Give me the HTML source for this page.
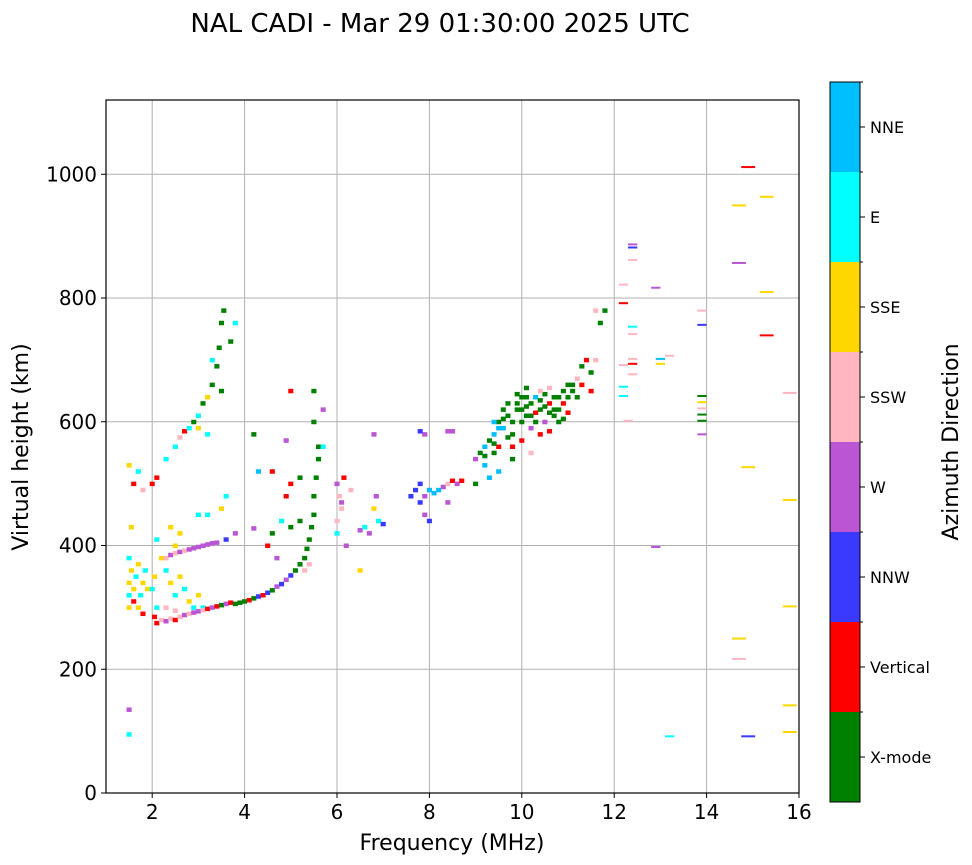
<!DOCTYPE html>
<html><head><meta charset="utf-8"><style>
html,body{margin:0;padding:0;background:#fff;}
svg{display:block;font-family:"DejaVu Sans","Liberation Sans",sans-serif;}
</style></head><body>
<svg id="chart" width="972" height="865" viewBox="0 0 972 865">
<text x="440" y="32" font-size="26" text-anchor="middle">NAL CADI - Mar 29 01:30:00 2025 UTC</text>
<g id="grid"></g>
<g id="marks"></g>
<rect x="106" y="100" width="693" height="693" fill="none" stroke="#000" stroke-width="1.2"/>
<g id="xticks"></g>
<g id="yticks"></g>
<text x="452" y="850" font-size="22" text-anchor="middle">Frequency (MHz)</text>
<text transform="translate(28,447) rotate(-90)" font-size="22" text-anchor="middle">Virtual height (km)</text>
<g id="cbar"></g>
<text transform="translate(958,442) rotate(-90)" font-size="22" text-anchor="middle">Azimuth Direction</text>
</svg>
<script>
const NS='http://www.w3.org/2000/svg';
const directions=['X-mode','Vertical','NNW','W','SSW','SSE','E','NNE'];
const dirColors=['#008000','#ff0000','#3a3aff','#ba55d3','#ffb6c1','#ffd700','#00ffff','#00bfff'];
const xTicks=[2,4,6,8,10,12,14,16];
const yTicks=[0,200,400,600,800,1000];
const echoFreq=[1.5,1.5,1.5,1.55,1.5,1.6,1.6,1.65,1.7,1.7,1.75,1.8,1.8,1.85,1.9,1.55,1.6,1.5,1.7,1.8,1.5,1.5,
2.0,2.05,2.1,2.1,2.2,2.3,2.4,2.5,2.5,2.6,2.7,2.8,2.9,3.0,3.1,
2.05,2.1,2.2,2.3,2.4,2.5,2.6,2.7,2.8,2.9,3.0,3.1,3.2,3.3,3.4,3.5,3.6,3.7,3.8,3.9,4.0,4.1,4.2,4.3,4.4,4.5,4.6,4.7,4.8,4.9,5.0,5.1,5.2,5.3,5.35,5.4,5.45,5.5,5.5,5.55,5.6,5.6,5.3,5.4,2.3,2.5,
2.3,2.4,2.5,2.6,2.7,2.8,2.9,3.0,3.1,3.2,3.3,3.4,3.6,3.8,4.2,4.8,4.6,4.5,4.7,5.0,5.2,4.9,5.0,5.2,4.3,4.2,4.9,5.0,5.5,5.5,5.7,5.7,4.6,
2.0,2.1,2.3,2.5,2.6,2.7,2.8,2.9,3.0,3.1,3.2,3.3,3.4,3.45,3.5,3.55,3.7,3.5,3.2,3.0,3.3,3.6,3.2,3.5,3.0,3.8,2.4,2.6,
6.0,6.05,6.1,6.0,6.15,6.1,6.0,6.5,6.6,6.7,6.8,6.85,6.8,6.9,6.5,7.0,6.3,6.2,
7.6,7.7,7.8,7.8,7.9,8.0,8.1,8.2,8.3,8.4,8.5,8.6,8.7,8.4,7.9,8.0,7.9,7.8,8.4,8.5,
9.0,9.1,9.2,9.2,9.3,9.4,9.4,9.5,9.5,9.6,9.6,9.7,9.7,9.8,9.8,9.9,9.9,10.0,10.0,10.0,10.1,10.1,10.2,10.2,10.3,10.3,10.4,10.4,10.5,10.5,10.6,10.6,10.7,10.7,10.8,10.8,10.9,10.9,11.0,11.0,11.1,11.2,11.2,11.3,11.3,11.4,11.5,11.5,11.6,11.7,11.8,11.6,9.3,9.0,9.5,9.8,10.2,10.6,10.1,10.4,
9.4,9.6,9.8,10.0,10.2,10.4,10.6,10.8,11.0,9.5,9.7,9.9,10.1,10.3,10.5,10.7,10.9,11.1,9.2,9.4,
12.2,12.2,12.4,12.4,12.4,12.4,12.4,12.4,12.4,12.4,12.2,12.2,12.2,12.3,13.0,13.0,13.2,12.9,12.9,13.2,13.9,13.9,13.9,13.9,13.9,13.9,13.9,13.9,14.7,14.7,14.7,14.7,14.9,14.9,14.9,15.3,15.3,15.3,15.8,15.8,15.8,15.8,15.8];
const echoHeight=[300,320,340,360,380,330,310,350,300,370,320,340,290,360,330,430,500,530,520,490,95,135,
330,350,300,410,380,360,340,320,400,350,330,310,300,320,300,
285,275,280,278,282,280,285,288,290,292,294,296,298,300,302,304,306,308,306,308,310,312,315,318,320,324,328,334,338,345,352,360,370,380,395,410,430,450,480,510,540,560,360,370,300,295,
380,385,388,390,392,394,396,398,400,402,404,405,410,420,428,440,420,400,380,430,440,480,500,510,520,580,570,650,650,600,560,620,520,
500,510,540,560,575,585,590,600,610,630,640,660,690,720,760,780,730,650,580,590,700,480,450,460,450,760,430,420,
500,480,460,440,510,470,420,425,430,420,460,480,580,440,360,435,490,400,
480,490,500,470,480,490,485,490,495,500,505,500,505,470,450,440,580,585,585,585,
540,550,560,530,570,580,550,600,560,620,590,630,575,600,560,620,645,640,600,570,655,610,590,630,640,600,620,580,645,600,630,585,640,610,620,600,650,630,660,615,660,670,640,690,660,700,680,650,700,760,780,780,510,500,520,540,550,655,640,650,
565,605,580,620,610,635,615,640,640,590,610,630,625,615,625,620,605,650,545,600,
790,820,860,885,880,752,740,700,692,675,655,640,690,600,700,692,705,815,396,90,640,630,620,610,600,578,755,778,855,948,248,215,1010,525,90,962,808,738,645,472,300,140,97];
const echoDir=[5,6,5,5,6,5,1,6,5,5,6,5,1,6,5,5,1,5,6,4,6,3,
6,5,6,6,5,6,5,6,5,5,6,5,6,5,6,
1,1,4,3,4,1,4,3,4,3,3,4,1,3,1,0,3,1,0,0,0,1,0,2,1,2,0,3,2,3,2,0,0,0,0,0,0,0,0,0,0,0,4,4,4,4,
4,3,4,3,4,3,3,3,3,3,3,3,2,3,3,6,0,1,3,0,0,1,1,0,7,0,3,1,0,0,6,3,1,
1,1,6,6,4,1,6,0,6,0,5,0,0,0,0,0,0,0,6,5,6,6,6,5,6,6,5,5,
3,4,4,4,1,3,6,3,6,3,5,3,3,6,5,2,4,3,
2,2,2,2,3,7,7,7,3,4,1,3,1,3,3,2,3,2,3,3,
3,0,7,7,0,7,0,0,1,0,7,0,0,0,1,0,0,0,0,1,0,0,3,0,7,0,0,1,0,3,1,1,0,0,0,0,0,1,0,1,0,4,0,0,1,1,0,1,4,0,0,4,7,0,7,0,4,4,0,4,
0,0,0,0,0,0,0,0,0,7,0,0,0,1,0,0,0,0,0,7,
1,4,4,3,2,6,4,4,1,4,6,6,4,4,7,5,4,3,3,6,0,5,4,0,0,3,2,4,3,5,5,4,1,5,2,5,5,1,4,5,5,5,5];

const X0=106,X1=799,Y0=793,Y1=100,XMIN=1,XMAX=16,YMIN=0,YMAX=1120;
const xs=v=>X0+(v-XMIN)/(XMAX-XMIN)*(X1-X0);
const ys=v=>Y0-(v-YMIN)/(YMAX-YMIN)*(Y0-Y1);
function mk(tag,attrs,parent){const e=document.createElementNS(NS,tag);for(const k in attrs)e.setAttribute(k,attrs[k]);parent.appendChild(e);return e;}
const grid=document.getElementById('grid'),marks=document.getElementById('marks');
const xg=document.getElementById('xticks'),yg=document.getElementById('yticks');
xTicks.forEach(t=>{const x=xs(t);
 const l=mk('line',{x1:x,y1:Y1,x2:x,y2:Y0,stroke:'#b0b0b0','stroke-width':1},grid);
 
 
 mk('line',{x1:x,y1:Y0,x2:x,y2:Y0+5,stroke:'#000'},xg);
 const tx=mk('text',{x:x,y:Y0+26,'font-size':20,'text-anchor':'middle'},xg);tx.textContent=t;
 
 
});
yTicks.forEach(t=>{const y=ys(t);
 const l=mk('line',{x1:X0,y1:y,x2:X1,y2:y,stroke:'#b0b0b0','stroke-width':1},grid);
 
 
 mk('line',{x1:X0-5,y1:y,x2:X0,y2:y,stroke:'#000'},yg);
 const tx=mk('text',{x:X0-9,y:y+7,'font-size':20,'text-anchor':'end'},yg);tx.textContent=t;
 
 
});
for(let i=0;i<echoFreq.length;i++){
 const f=echoFreq[i],h=echoHeight[i];
 const w=f>=14.5?0.3:(f>=12?0.2:0.11);
 const x=xs(f-w/2),wpx=xs(f+w/2)-x;
 const r=mk('rect',{x:x,y:ys(h)-2,width:wpx,height:f>=12?2:4.5,fill:dirColors[echoDir[i]]},marks);
 
 
}
const cb=document.getElementById('cbar');
const CBX=830,CBW=30,CBT=82,CBB=802,seg=(CBB-CBT)/directions.length;
directions.forEach((d,i)=>{
 const y=CBB-(i+1)*seg;
 const r=mk('rect',{x:CBX,y:y,width:CBW,height:seg,fill:dirColors[i]},cb);
 
 
 mk('line',{x1:CBX+CBW,y1:y+seg/2,x2:CBX+CBW+5,y2:y+seg/2,stroke:'#000'},cb);
 mk('line',{x1:CBX+CBW,y1:y,x2:CBX+CBW+3,y2:y,stroke:'#000'},cb);
 const t=mk('text',{x:CBX+CBW+10,y:y+seg/2+6,'font-size':16},cb);t.textContent=d;
 
 
});
mk('rect',{x:CBX,y:CBT,width:CBW,height:CBB-CBT,fill:'none',stroke:'#000','stroke-width':1},cb);
</script>
</body></html>
